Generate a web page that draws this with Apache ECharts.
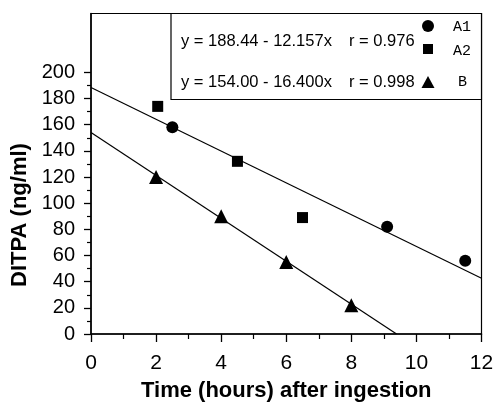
<!DOCTYPE html>
<html>
<head>
<meta charset="utf-8">
<script src="https://cdn.jsdelivr.net/npm/echarts@6/dist/echarts.min.js"></script>
<style>
html,body{margin:0;padding:0;background:#fff;}
#chart{width:495px;height:403px;}
</style>
</head>
<body>
<div id="chart"></div>
<script>
// Data
var seriesA1 = [[2.5, 158], [9.1, 82], [11.5, 56]];
var seriesA2 = [[2.05, 174], [4.5, 132], [6.5, 89]];
var seriesB  = [[2, 120], [4, 90], [6, 55], [8, 22]];
// Regression lines (from the printed equations)
var fitA = [[0, 188.44], [12, 42.56]];
var fitB = [[0, 154.0], [9.39, 0]];
var xTicks = [0, 2, 4, 6, 8, 10, 12];
var yTickLabels = [0, 20, 40, 60, 80, 100, 120, 140, 160, 180, 200];
var yMinorTicks = [10, 30, 50, 70, 90, 110, 130, 150, 170, 190];
var eqA = "y = 188.44 - 12.157x", rA = "r = 0.976";
var eqB = "y = 154.00 - 16.400x", rB = "r = 0.998";
var legendNames = ["A1", "A2", "B"];

var font = "'Liberation Sans', Arial, Helvetica, sans-serif";
var mono = "'Liberation Mono', 'Courier New', monospace";
var chart = echarts.init(document.getElementById('chart'), null, {renderer: 'canvas'});

var option = {
  animation: false,
  backgroundColor: '#fff',
  grid: {left: 91, right: 13.5, top: 13.5, bottom: 69, containLabel: false, outerBoundsMode: 'none',
         show: true, borderColor: '#000', borderWidth: 1.2, backgroundColor: 'transparent'},
  xAxis: {
    type: 'value', min: 0, max: 12, interval: 2,
    axisLine: {lineStyle: {color: '#000', width: 1.5}},
    axisTick: {show: true, length: 8, lineStyle: {color: '#000', width: 1.3}},
    minorTick: {show: true, splitNumber: 2, length: 5, lineStyle: {color: '#000', width: 1.2}},
    splitLine: {show: false},
    axisLabel: {color: '#000', fontSize: 21, fontFamily: font, margin: 19},
    name: 'Time (hours) after ingestion', nameLocation: 'middle', nameGap: 46,
    nameTextStyle: {color: '#000', fontSize: 22, fontWeight: 'bold', fontFamily: font}
  },
  yAxis: [{
    type: 'value', min: 0, max: 245, interval: 20,
    axisLine: {lineStyle: {color: '#000', width: 1.5}},
    axisTick: {show: true, length: 7, customValues: yTickLabels, lineStyle: {color: '#000', width: 1.3}},
    splitLine: {show: false},
    axisLabel: {color: '#000', fontSize: 20, fontFamily: font, margin: 16, customValues: yTickLabels}
  }, {
    type: 'value', min: 0, max: 245, position: 'left', offset: 0,
    axisLine: {show: false},
    axisTick: {show: true, length: 4, customValues: yMinorTicks, lineStyle: {color: '#000', width: 1.2}},
    axisLabel: {show: false},
    splitLine: {show: false}
  }],
  graphic: [
    {type: 'text', x: 20, y: 215, rotation: Math.PI / 2,
     style: {text: 'DITPA (ng/ml)', fill: '#000', font: 'bold 22px ' + font, textAlign: 'center', textVerticalAlign: 'middle'}},
    {type: 'rect', shape: {x: 171, y: 13.5, width: 310.5, height: 86}, style: {fill: '#fff', stroke: '#000', lineWidth: 1.2}, z: 10},
    {type: 'text', x: 181, y: 41.5, z: 11, style: {text: eqA, fill: '#000', font: '16.5px ' + font, textVerticalAlign: 'middle'}},
    {type: 'text', x: 349, y: 41.5, z: 11, style: {text: rA, fill: '#000', font: '16.5px ' + font, textVerticalAlign: 'middle'}},
    {type: 'text', x: 181, y: 82, z: 11, style: {text: eqB, fill: '#000', font: '16.5px ' + font, textVerticalAlign: 'middle'}},
    {type: 'text', x: 349, y: 82, z: 11, style: {text: rB, fill: '#000', font: '16.5px ' + font, textVerticalAlign: 'middle'}},
    {type: 'circle', shape: {cx: 428, cy: 26, r: 6}, style: {fill: '#000'}, z: 11},
    {type: 'rect', shape: {x: 423, y: 44, width: 10, height: 10}, style: {fill: '#000'}, z: 11},
    {type: 'polygon', shape: {points: [[428, 76], [434.5, 88], [421.5, 88]]}, style: {fill: '#000'}, z: 11},
    {type: 'text', x: 453, y: 27, z: 11, style: {text: legendNames[0], fill: '#000', font: '15px ' + mono, textVerticalAlign: 'middle'}},
    {type: 'text', x: 453, y: 51.5, z: 11, style: {text: legendNames[1], fill: '#000', font: '15px ' + mono, textVerticalAlign: 'middle'}},
    {type: 'text', x: 458, y: 82, z: 11, style: {text: legendNames[2], fill: '#000', font: '15px ' + mono, textVerticalAlign: 'middle'}}
  ],
  series: [
    {name: 'fitA', type: 'line', data: fitA, symbol: 'none', lineStyle: {color: '#000', width: 1.2}, z: 2},
    {name: 'fitB', type: 'line', data: fitB, symbol: 'none', lineStyle: {color: '#000', width: 1.2}, z: 2},
    {name: 'A1', type: 'scatter', data: seriesA1, symbol: 'circle', symbolSize: 12, itemStyle: {color: '#000', opacity: 1}, z: 3},
    {name: 'A2', type: 'scatter', data: seriesA2, symbol: 'rect', symbolSize: 11, itemStyle: {color: '#000', opacity: 1}, z: 3},
    {name: 'B', type: 'scatter', data: seriesB, symbol: 'triangle', symbolSize: 14, itemStyle: {color: '#000', opacity: 1}, z: 3}
  ]
};
chart.setOption(option);
</script>
</body>
</html>
